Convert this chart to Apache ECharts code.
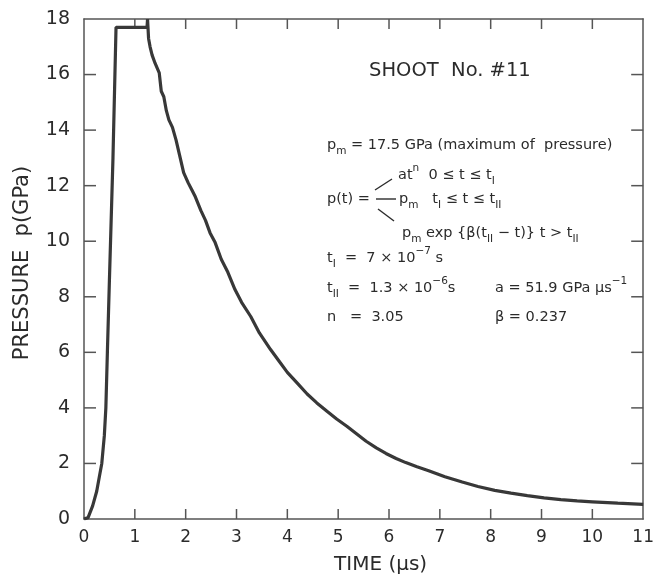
<!DOCTYPE html>
<html>
<head>
<meta charset="utf-8">
<title>SHOOT No.#11</title>
<script src="https://cdn.jsdelivr.net/npm/echarts@6/dist/echarts.min.js"></script>
<style>
  html, body { margin: 0; padding: 0; background: #fff; }
  #myChart { width: 657px; height: 580px; }
</style>
</head>
<body>
<div id="myChart"></div>
<script>
// 读图得到的数据（时间 μs / 压力 GPa）
const timeUs = [
  0, 0.08, 0.17, 0.25, 0.3, 0.35, 0.4, 0.43, 0.46, 0.5, 0.57, 0.63,
  1.24, 1.25, 1.27, 1.3, 1.34, 1.4, 1.48, 1.52, 1.57, 1.62, 1.67, 1.74,
  1.81, 1.88, 1.96, 2.05, 2.12, 2.19, 2.3, 2.39, 2.48, 2.58, 2.7, 2.83,
  2.97, 3.1, 3.28, 3.45, 3.67, 3.85, 4.0, 4.2, 4.39, 4.58, 4.78, 4.97,
  5.17, 5.36, 5.55, 5.75, 5.94, 6.14, 6.33, 6.55, 6.78, 7.1, 7.44, 7.75,
  8.08, 8.4, 8.72, 9.05, 9.38, 9.7, 10.0, 10.5, 11.0
];
const pressure = [
  0, 0.05, 0.47, 1.0, 1.5, 2.0, 3.0, 4.0, 6.0, 8.6, 13.0, 17.7,
  17.7, 18.0, 17.3, 17.0, 16.7, 16.4, 16.06, 15.4, 15.2, 14.7, 14.37, 14.1,
  13.65, 13.1, 12.47, 12.1, 11.85, 11.6, 11.1, 10.75, 10.3, 9.95, 9.35, 8.88,
  8.26, 7.8, 7.29, 6.7, 6.1, 5.65, 5.28, 4.88, 4.5, 4.18, 3.88, 3.6,
  3.34, 3.07, 2.8, 2.56, 2.36, 2.18, 2.03, 1.88, 1.74, 1.52, 1.33, 1.17,
  1.03, 0.93, 0.84, 0.76, 0.7, 0.65, 0.62, 0.57, 0.53
];
// 刻度
const xTickVals = [1, 2, 3, 4, 5, 6, 7, 8, 9, 10];
const yTickVals = [2, 4, 6, 8, 10, 12, 14, 16];

const FONT = "DejaVu Sans";
const INK = "#2b2b2b";
const AX = "#555";

let myChart = echarts.init(document.getElementById("myChart"));

// 注释文字：正文用普通文本，上下标用 rich
const rich = {
  s: { fontFamily: FONT, fontSize: 10.5, fill: INK, lineHeight: 24, verticalAlign: "bottom" },
  u: { fontFamily: FONT, fontSize: 10.5, fill: INK, lineHeight: 24, verticalAlign: "top" }
};
function txt(x, y, s) {
  return {
    type: "text", left: x, top: y,
    style: { text: s, rich: rich, fill: INK, fontFamily: FONT, fontSize: 14.5, lineHeight: 24 }
  };
}

const axisLine = { show: true, onZero: false, lineStyle: { color: AX, width: 1.5 } };

myChart.setOption({
  animation: false,
  backgroundColor: "#fff",
  grid: { left: 84, right: 7, top: 19, bottom: 60, containLabel: false },
  xAxis: [
    {
      type: "value", position: "bottom", min: 0, max: 11, interval: 1,
      name: "TIME (μs)", nameLocation: "middle", nameGap: 36,
      nameTextStyle: { fontFamily: FONT, fontSize: 20, color: INK, padding: [0, 0, 0, 34] },
      axisLine: axisLine,
      axisTick: { show: false },
      axisLabel: { fontFamily: FONT, fontSize: 17, color: INK, margin: 10 },
      splitLine: { show: false }
    },
    {
      type: "value", position: "top", min: 0, max: 11, interval: 1,
      axisLine: axisLine, axisTick: { show: false }, axisLabel: { show: false }, splitLine: { show: false }
    }
  ],
  yAxis: [
    {
      type: "value", position: "left", min: 0, max: 18, interval: 2,
      name: "PRESSURE  p(GPa)", nameLocation: "middle", nameGap: 51, nameRotate: 90,
      nameTextStyle: { fontFamily: FONT, fontSize: 21, color: INK, padding: [0, 0, 0, 12] },
      axisLine: axisLine,
      axisTick: { show: false },
      axisLabel: { fontFamily: FONT, fontSize: 19, color: INK, margin: 14 },
      splitLine: { show: false }
    },
    {
      type: "value", position: "right", min: 0, max: 18, interval: 2,
      axisLine: axisLine, axisTick: { show: false }, axisLabel: { show: false }, splitLine: { show: false }
    }
  ],
  series: [
    {
      name: "pressure",
      type: "line",
      xAxisIndex: 0, yAxisIndex: 0,
      showSymbol: false,
      lineStyle: { color: "#383838", width: 3.2 },
      data: timeUs.map((t, i) => [t, pressure[i]])
    }
  ]
});

// 内向刻度（四边），位置由坐标轴换算
const ticks = [];
const tickStyle = { stroke: AX, lineWidth: 1.5 };
const yBot = myChart.convertToPixel({ yAxisIndex: 0 }, 0);
const yTop = myChart.convertToPixel({ yAxisIndex: 0 }, 18);
const xL = myChart.convertToPixel({ xAxisIndex: 0 }, 0);
const xR = myChart.convertToPixel({ xAxisIndex: 0 }, 11);
xTickVals.forEach(v => {
  const x = myChart.convertToPixel({ xAxisIndex: 0 }, v);
  ticks.push({ type: "line", shape: { x1: x, y1: yBot, x2: x, y2: yBot - 10 }, style: tickStyle });
  ticks.push({ type: "line", shape: { x1: x, y1: yTop, x2: x, y2: yTop + 10 }, style: tickStyle });
});
yTickVals.forEach(v => {
  const y = myChart.convertToPixel({ yAxisIndex: 0 }, v);
  ticks.push({ type: "line", shape: { x1: xL, y1: y, x2: xL + 12, y2: y }, style: tickStyle });
  ticks.push({ type: "line", shape: { x1: xR, y1: y, x2: xR - 12, y2: y }, style: tickStyle });
});

const notes = [
  { type: "text", left: 369, top: 61, style: { text: "SHOOT  No. #11", fontFamily: FONT, fontSize: 19.5, fill: INK } },
  txt(327, 133, "p{s|m} = 17.5 GPa (maximum of  pressure)"),
  txt(398, 163, "at{u|n}  0 ≤ t ≤ t{s|I}"),
  txt(327, 187, "p(t) ="),
  txt(399, 187, "p{s|m}   t{s|I} ≤ t ≤ t{s|II}"),
  txt(402, 221, "p{s|m} exp {β(t{s|II} − t)} t > t{s|II}"),
  txt(327, 246, "t{s|I}  =  7 × 10{u|−7} s"),
  txt(327, 276, "t{s|II}  =  1.3 × 10{u|−6}s"),
  txt(495, 276, "a = 51.9 GPa μs{u|−1}"),
  txt(327, 305, "n   =  3.05"),
  txt(495, 305, "β = 0.237"),
  { type: "line", shape: { x1: 375, y1: 190, x2: 392, y2: 179 }, style: { stroke: INK, lineWidth: 1.4 } },
  { type: "line", shape: { x1: 376, y1: 199, x2: 396, y2: 199 }, style: { stroke: INK, lineWidth: 1.4 } },
  { type: "line", shape: { x1: 378, y1: 209, x2: 394, y2: 221 }, style: { stroke: INK, lineWidth: 1.4 } }
];

myChart.setOption({ graphic: ticks.concat(notes) });
</script>
</body>
</html>
